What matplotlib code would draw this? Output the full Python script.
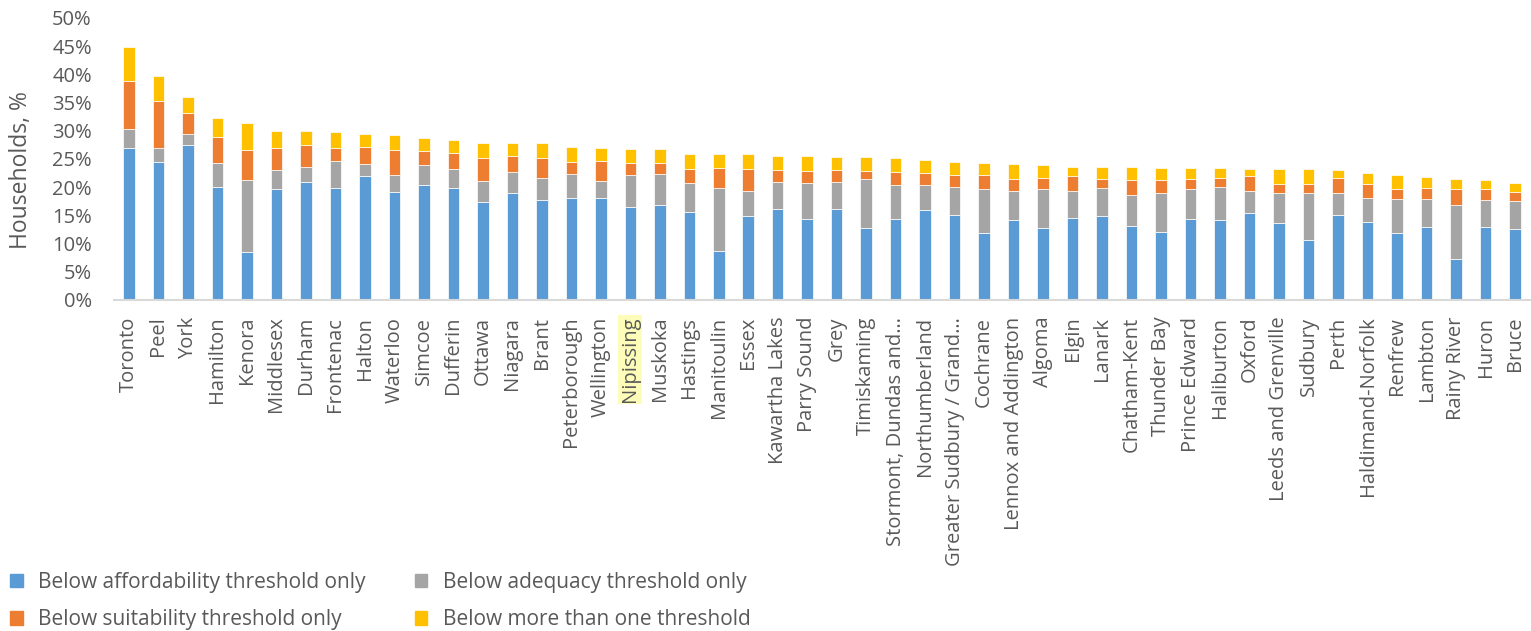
import matplotlib
matplotlib.use("Agg")
import matplotlib.pyplot as plt
import numpy as np
from matplotlib.patches import Patch

plt.rcParams["font.family"] = ["Open Sans", "DejaVu Sans"]

regions = [
    "Toronto", "Peel", "York", "Hamilton", "Kenora", "Middlesex", "Durham",
    "Frontenac", "Halton", "Waterloo", "Simcoe", "Dufferin", "Ottawa",
    "Niagara", "Brant", "Peterborough", "Wellington", "Nipissing", "Muskoka",
    "Hastings", "Manitoulin", "Essex", "Kawartha Lakes", "Parry Sound", "Grey",
    "Timiskaming", "Stormont, Dundas and…", "Northumberland",
    "Greater Sudbury / Grand…", "Cochrane", "Lennox and Addington", "Algoma",
    "Elgin", "Lanark", "Chatham-Kent", "Thunder Bay", "Prince Edward",
    "Haliburton", "Oxford", "Leeds and Grenville", "Sudbury", "Perth",
    "Haldimand-Norfolk", "Renfrew", "Lambton", "Rainy River", "Huron", "Bruce",
]

# share of households, %
affordability = [
    27.0, 24.5, 27.4, 20.0, 8.5, 19.6, 20.9, 19.9, 21.9, 19.2, 20.3, 19.9,
    17.4, 19.0, 17.7, 18.0, 18.0, 16.5, 16.8, 15.6, 8.7, 14.9, 16.2, 14.3,
    16.1, 12.8, 14.4, 16.0, 15.1, 11.9, 14.1, 12.8, 14.6, 14.9, 13.2, 12.1,
    14.3, 14.1, 15.5, 13.6, 10.6, 15.0, 13.8, 11.8, 12.9, 7.3, 13.0, 12.5,
]
adequacy = [
    3.4, 2.4, 2.0, 4.3, 12.8, 3.4, 2.7, 4.8, 2.2, 3.0, 3.6, 3.3,
    3.7, 3.7, 3.9, 4.3, 3.1, 5.7, 5.5, 5.1, 11.2, 4.4, 4.8, 6.4,
    4.9, 8.6, 5.9, 4.4, 4.9, 7.7, 5.3, 6.8, 4.7, 5.0, 5.4, 6.8,
    5.3, 5.9, 3.8, 5.3, 8.3, 4.0, 4.2, 6.1, 5.0, 9.5, 4.7, 5.1,
]
suitability = [
    8.5, 8.4, 3.7, 4.6, 5.3, 4.0, 3.8, 2.3, 3.0, 4.4, 2.6, 2.9,
    4.0, 2.8, 3.5, 2.2, 3.6, 2.0, 2.0, 2.6, 3.5, 4.0, 2.1, 2.2,
    2.0, 1.5, 2.4, 2.2, 2.2, 2.5, 2.1, 2.0, 2.7, 1.6, 2.6, 2.3,
    1.9, 1.7, 2.6, 1.7, 1.7, 2.6, 2.6, 1.8, 2.0, 2.8, 2.0, 1.5,
]
multiple = [
    5.9, 4.5, 2.9, 3.3, 4.8, 2.9, 2.5, 2.8, 2.3, 2.7, 2.3, 2.2,
    2.7, 2.3, 2.7, 2.6, 2.2, 2.6, 2.5, 2.6, 2.5, 2.5, 2.4, 2.6,
    2.4, 2.4, 2.5, 2.3, 2.2, 2.2, 2.6, 2.3, 1.6, 2.1, 2.3, 2.2,
    1.9, 1.7, 1.3, 2.6, 2.6, 1.4, 2.0, 2.4, 1.9, 1.9, 1.6, 1.7,
]

series = [
    ("Below affordability threshold only", affordability, "#5B9BD5"),
    ("Below adequacy threshold only", adequacy, "#A5A5A5"),
    ("Below suitability threshold only", suitability, "#ED7D31"),
    ("Below more than one threshold", multiple, "#FFC000"),
]

text_color = "#595959"

fig = plt.figure(figsize=(15.31, 6.31), dpi=100)
ax = fig.add_axes([0.0745, 0.5246, 0.9248, 0.4469])

x = np.arange(len(regions))
bottom = np.zeros(len(regions))
for name, vals, color in series:
    vals = np.array(vals)
    ax.bar(x, vals, width=0.39, bottom=bottom, color=color,
           edgecolor="white", linewidth=0.5, label=name)
    bottom += vals

ax.set_xlim(-0.5, len(regions) - 0.5)
ax.set_ylim(0, 50)
ax.set_yticks(np.arange(0, 51, 5))
ax.set_yticklabels([f"{v}%" for v in range(0, 51, 5)])
ax.set_xticks(x)
ax.set_xticklabels(regions, rotation=90)

ax.tick_params(axis="y", length=0, pad=16, labelsize=14.5, labelcolor=text_color)
ax.tick_params(axis="x", length=0, pad=12, labelsize=14.5, labelcolor=text_color)

for side in ("top", "right", "left"):
    ax.spines[side].set_visible(False)
ax.spines["bottom"].set_color("#D9D9D9")
ax.spines["bottom"].set_linewidth(1.5)

ax.set_ylabel("Households, %", fontsize=16.5, color=text_color)
ax.yaxis.set_label_coords(-0.057, 0.46)

# highlighted region
for lbl in ax.get_xticklabels():
    if lbl.get_text() == "Nipissing":
        lbl.set_bbox(dict(facecolor="#FDFCB8", edgecolor="none", pad=1.5))

handles = {name: Patch(color=color) for name, _, color in series}
order = [
    "Below affordability threshold only",
    "Below suitability threshold only",
    "Below adequacy threshold only",
    "Below more than one threshold",
]
fig.legend([handles[n] for n in order], order, ncol=2, loc="upper left",
           bbox_to_anchor=(0.0026, 0.104), frameon=False, fontsize=15,
           labelcolor=text_color, handlelength=0.6, handleheight=0.6,
           handletextpad=0.75, columnspacing=2.35, labelspacing=0.8,
           borderaxespad=0.0, borderpad=0.3)

fig.savefig("out.png", dpi=100)
